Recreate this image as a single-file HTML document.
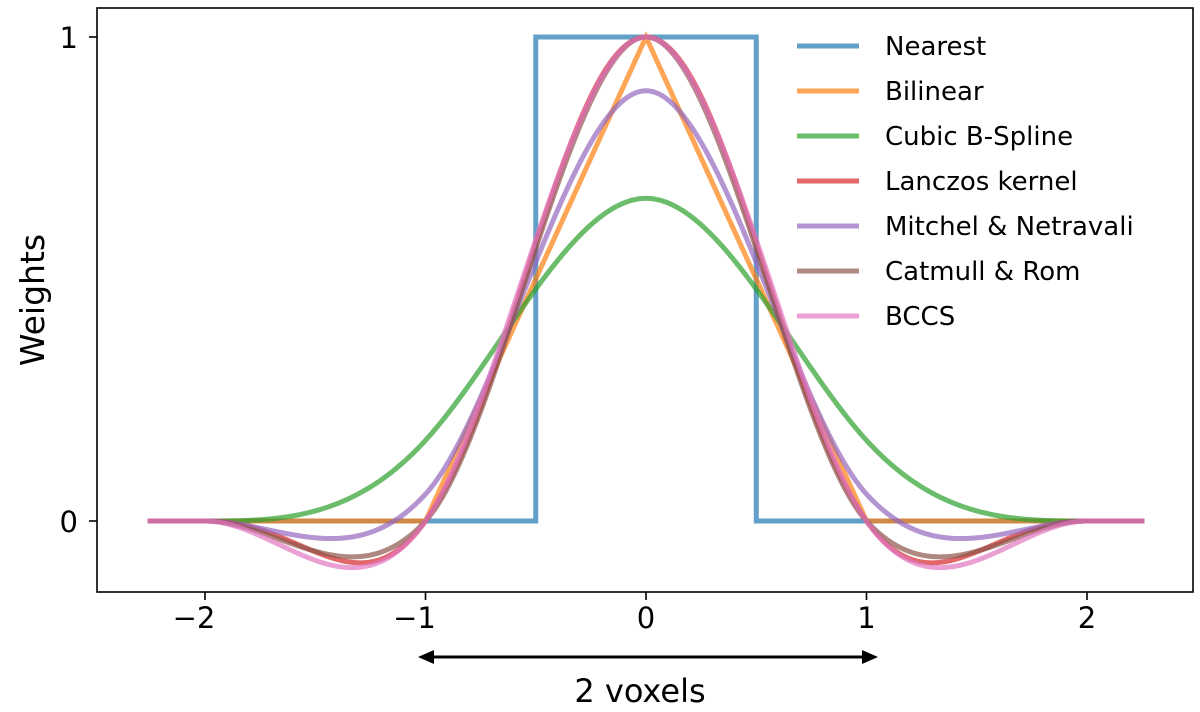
<!DOCTYPE html>
<html><head><meta charset="utf-8"><style>
body{margin:0;background:#fff}
svg{display:block;font-family:"DejaVu Sans","Liberation Sans",sans-serif}
</style></head><body>
<svg id="c" width="1200" height="712" viewBox="0 0 1200 712">
<rect x="97" y="8" width="1096" height="584" fill="none" stroke="#000" stroke-width="1.6"/>
<g id="ticks"></g>
<g id="lines"></g>
<g id="legend"></g>
<text x="0" y="0" transform="translate(44,300) rotate(-90)" text-anchor="middle" font-size="33">Weights</text>
<g>
<line x1="430" y1="657" x2="866" y2="657" stroke="#000" stroke-width="3"/>
<polygon points="418,657 434,650 434,664" fill="#000"/>
<polygon points="878,657 862,650 862,664" fill="#000"/>
</g>
<text x="640" y="702" text-anchor="middle" font-size="32">2 voxels</text>
</svg>
<script>
const names=["Nearest","Bilinear","Cubic B-Spline","Lanczos kernel","Mitchel & Netravali","Catmull & Rom","BCCS"];
const kinds=["nearest","linear","bc","lanczos","bc","bc","bc"];
const paramB=[0,0,1,0,1/3,0,0];
const paramC=[0,0,0,0,1/3,0.5,0.65];
const colors=["#1f77b4","#ff7f0e","#2ca02c","#d62728","#9467bd","#8c564b","#e377c2"];
const xTicks=[-2,-1,0,1,2];
const yTicks=[0,1];
const xMin=-2.26,xMax=2.26;
const ns="http://www.w3.org/2000/svg";
function sx(v){return 646+v*220.5;}
function sy(v){return 521-v*484;}
function k(kind,B,C,x){const a=Math.abs(x);
 if(kind==="nearest")return a<0.5?1:0;
 if(kind==="linear")return Math.max(0,1-a);
 if(kind==="lanczos"){if(a>=2)return 0;if(a<1e-9)return 1;const p=Math.PI;return Math.sin(p*x)/(p*x)*Math.sin(p*x/2)/(p*x/2);}
 if(a<1)return((12-9*B-6*C)*a*a*a+(-18+12*B+6*C)*a*a+(6-2*B))/6;
 if(a<2)return((-B-6*C)*a*a*a+(6*B+30*C)*a*a+(-12*B-48*C)*a+(8*B+24*C))/6;
 return 0;}
const T=document.getElementById('ticks');
xTicks.forEach(v=>{const l=document.createElementNS(ns,'line');


l.setAttribute('x1',sx(v));l.setAttribute('x2',sx(v));l.setAttribute('y1',592);l.setAttribute('y2',600);l.setAttribute('stroke','#000');l.setAttribute('stroke-width','1.6');T.appendChild(l);
const t=document.createElementNS(ns,'text');


t.setAttribute('x',sx(v)+(v<0?-11:0));t.setAttribute('y',628);t.setAttribute('text-anchor','middle');t.setAttribute('font-size','29');t.textContent=(v<0?'\u2212':'')+Math.abs(v);T.appendChild(t);});
yTicks.forEach(v=>{const l=document.createElementNS(ns,'line');


l.setAttribute('x1',89);l.setAttribute('x2',97);l.setAttribute('y1',sy(v));l.setAttribute('y2',sy(v));l.setAttribute('stroke','#000');l.setAttribute('stroke-width','1.6');T.appendChild(l);
const t=document.createElementNS(ns,'text');


t.setAttribute('x',78);t.setAttribute('y',sy(v)+11);t.setAttribute('text-anchor','end');t.setAttribute('font-size','29');t.textContent=v;T.appendChild(t);});
const L=document.getElementById('lines'),G=document.getElementById('legend');
names.forEach((n,i)=>{let d='';
 if(kinds[i]==="nearest"){d=`M${sx(xMin)},${sy(0)}L${sx(-0.5)},${sy(0)}L${sx(-0.5)},${sy(1)}L${sx(0.5)},${sy(1)}L${sx(0.5)},${sy(0)}L${sx(xMax)},${sy(0)}`;}
 else{const N=900;for(let j=0;j<=N;j++){const x=xMin+(xMax-xMin)*j/N;d+=(j?'L':'M')+sx(x).toFixed(2)+','+sy(k(kinds[i],paramB[i],paramC[i],x)).toFixed(2);}}
 const p=document.createElementNS(ns,'path');
 
 
 p.setAttribute('d',d);p.setAttribute('fill','none');p.setAttribute('stroke',colors[i]);p.setAttribute('stroke-width','5');p.setAttribute('stroke-opacity','0.7');L.appendChild(p);
 const y=46+i*45;
 const ll=document.createElementNS(ns,'line');
 
 
 ll.setAttribute('x1',797);ll.setAttribute('x2',859);ll.setAttribute('y1',y);ll.setAttribute('y2',y);ll.setAttribute('stroke',colors[i]);ll.setAttribute('stroke-width','5');ll.setAttribute('stroke-opacity','0.7');G.appendChild(ll);
 const t=document.createElementNS(ns,'text');
 
 
 t.setAttribute('x',885);t.setAttribute('y',y+9);t.setAttribute('font-size','26');t.textContent=n;G.appendChild(t);});
</script>
</body></html>
